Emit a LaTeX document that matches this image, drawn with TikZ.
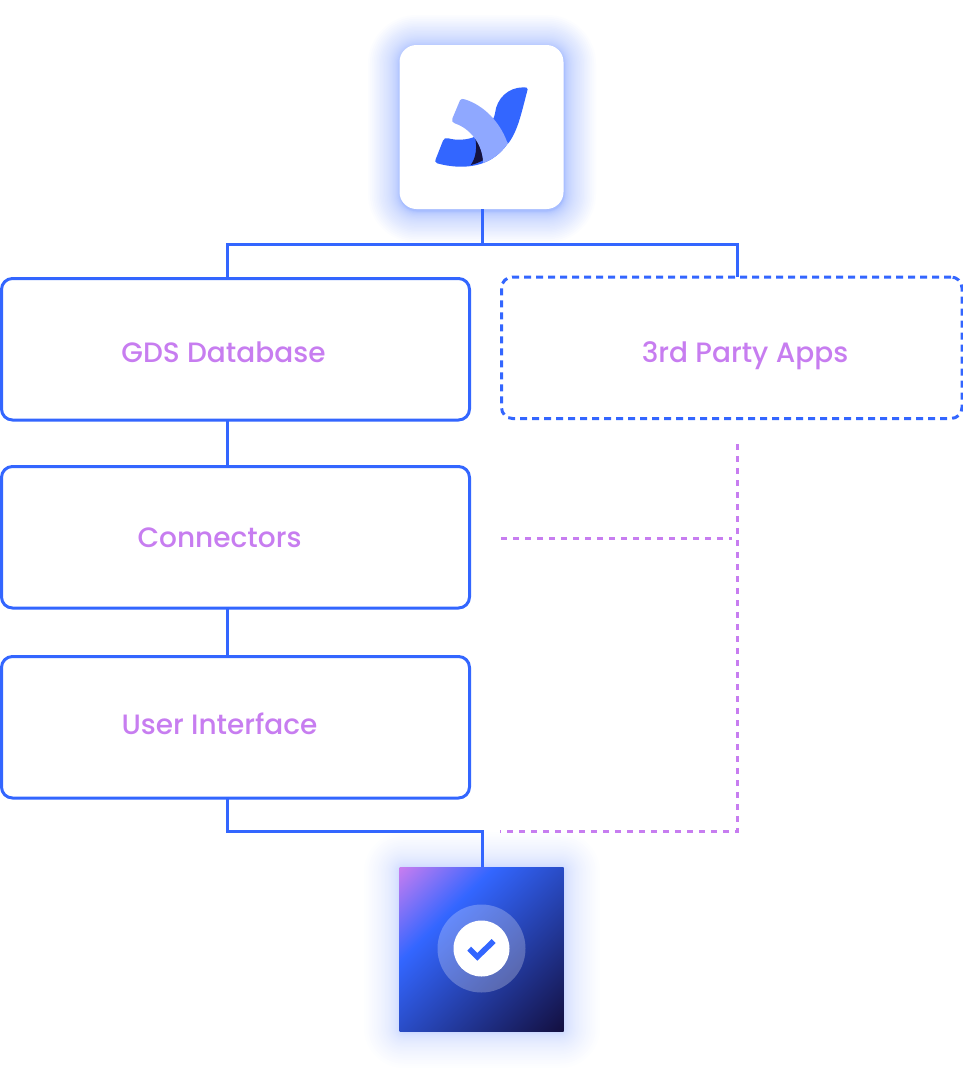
\documentclass[tikz,border=0pt]{standalone}
\usepackage{fontspec}
\setmainfont{Poppins}[UprightFont=* Medium]
\usetikzlibrary{calc}
\definecolor{lineblue}{HTML}{3366FF}
\definecolor{lilac}{HTML}{C77DF0}
\definecolor{softblue}{HTML}{8FA8FF}
\definecolor{inkblue}{HTML}{14123F}
\definecolor{deepnavy}{HTML}{130F40}
\pgfdeclarehorizontalshading{tilegrad}{100bp}{
  color(0bp)=(lilac); color(14.6bp)=(lilac); color(35bp)=(lineblue); color(85.4bp)=(deepnavy); color(100bp)=(deepnavy)}
\tikzset{
  x=1pt,y=-1pt,
  stagebox/.style={draw=lineblue,line width=3pt,rounded corners=11pt,minimum width=468pt,minimum height=141.5pt,inner sep=0pt,outer sep=0pt,anchor=north west},
  thirdbox/.style={stagebox,dash pattern=on 7pt off 5pt,minimum width=460.5pt},
  boxlabel/.style={text=lilac,font=\fontsize{28}{32}\selectfont,inner sep=0pt,anchor=base},
  link/.style={draw=lineblue,line width=3pt},
  optional/.style={draw=lilac,line width=3pt,dash pattern=on 6pt off 6pt},
  tilenode/.style={minimum width=164pt,minimum height=164pt,inner sep=0pt,outer sep=0pt,anchor=north west},
}
\begin{document}
\begin{tikzpicture}
\useasboundingbox (0,0) rectangle (963,1076);
% glows
\foreach \n in {36,35,...,1}{
  \pgfmathsetmacro{\g}{32*(\n/36)^2.2}
  \pgfmathsetmacro{\r}{17+\g}
  \fill[lineblue,fill opacity=0.017,rounded corners=\r pt] ({400-\g},{47-\g}) rectangle ({564+\g},{211+\g});
}
\foreach \n in {36,35,...,1}{
  \pgfmathsetmacro{\g}{36*(\n/36)^2.2}
  \pgfmathsetmacro{\r}{4+\g}
  \fill[lineblue,fill opacity=0.009,rounded corners=\r pt] ({400-\g},{868-\g}) rectangle ({564+\g},{1032+\g});
}
% tiles
\node[tilenode,fill=white,rounded corners=17pt] (logo) at (399.5,45) {};
% boxes
\node[stagebox] (gds) at (1.5,278.5) {};
\node[stagebox] (conn) at (1.5,466.5) {};
\node[stagebox] (ui) at (1.5,656.5) {};
\node[thirdbox] (third) at (501.5,277) {};
\node[boxlabel] (gdslabel) at (223.5,362) {GDS Database};
\node[boxlabel] (connlabel) at (219.5,547) {Connectors};
\node[boxlabel] (uilabel) at (219.5,734) {User Interface};
\node[boxlabel] (thirdlabel) at (745,362.5) {3rd Party Apps};
% result tile
\shade[shading=tilegrad,shading angle=-45] (399.5,867) rectangle (563.5,1031);
\node[tilenode] (result) at (399.5,867) {};
\node[circle,fill=white,fill opacity=0.25,minimum size=88pt,inner sep=0pt,outer sep=0pt] (halo) at (481.5,948.5) {};
\node[circle,fill=white,minimum size=56pt,inner sep=0pt,outer sep=0pt] (disc) at (halo.center) {};
\fill[lineblue] (467.3,950.7) -- (471,946.7) -- (477.3,953) -- (491.7,939) -- (495.7,943) -- (477.3,960.7) -- cycle;
% connectors
\coordinate (busmid) at (482.5,244);
\coordinate (busleft) at (227,244);
\coordinate (busright) at (737.5,244);
\draw[link] (logo.south -| busmid) -- (busmid);
\draw[link] (busleft |- gds.north) -- (busleft) -- (busright) -- (busright |- third.north);
\draw[link] (busleft |- gds.south) -- (busleft |- conn.north);
\draw[link] (busleft |- conn.south) -- (busleft |- ui.north);
\coordinate (joinmid) at (482.5,831.5);
\draw[link] (busleft |- ui.south) -- (busleft |- joinmid) -- (joinmid) -- (joinmid |- result.north);
% optional path
\coordinate (optop) at (737.5,444);
\coordinate (opcorner) at (737.5,831.5);
\coordinate (opend) at (500,831.5);
\coordinate (opmidstart) at (501,538);
\coordinate (opmidend) at (732,538);
\draw[optional] (optop) -- (opcorner) -- (opend);
\draw[optional] (opmidstart) -- (opmidend);
% logo mark
\begin{scope}[shift={(380,30)},x=0.33333pt,y=-0.33333pt]
  \fill[lineblue] (443,178) .. controls (443,172) and (438,172) .. (430,172)
    .. controls (385,172) and (350,205) .. (345,250)
    .. controls (343,262) and (338,270) .. (332,280)
    -- (385,340)
    .. controls (415,300) and (425,245) .. (443,178) -- cycle;
  \fill[lineblue] (385,338) .. controls (350,390) and (300,412) .. (235,410)
    .. controls (210,409) and (190,405) .. (172,400)
    .. controls (165,397) and (164,393) .. (167,388)
    -- (189,332) .. controls (192,325) and (197,323) .. (205,325)
    .. controls (230,332) and (262,330) .. (285,320) -- cycle;
  \fill[inkblue] (285,322) .. controls (300,345) and (308,370) .. (309,391)
    .. controls (296,398) and (285,402) .. (272,405)
    .. controls (288,385) and (292,350) .. (285,322) -- cycle;
  \begin{scope}
    \clip (385,338) .. controls (350,390) and (300,412) .. (235,410) -- (100,410) -- (100,100) -- (500,100) -- (500,338) -- cycle;
    \fill[softblue] (240,211) .. controls (243,206) and (248,206) .. (254,208)
      .. controls (310,225) and (360,275) .. (382,338)
      -- (395,370) -- (312,420) -- (309,391)
      .. controls (305,340) and (270,295) .. (224,280)
      .. controls (217,277) and (214,272) .. (217,266) -- cycle;
  \end{scope}
\end{scope}
\end{tikzpicture}
\end{document}
